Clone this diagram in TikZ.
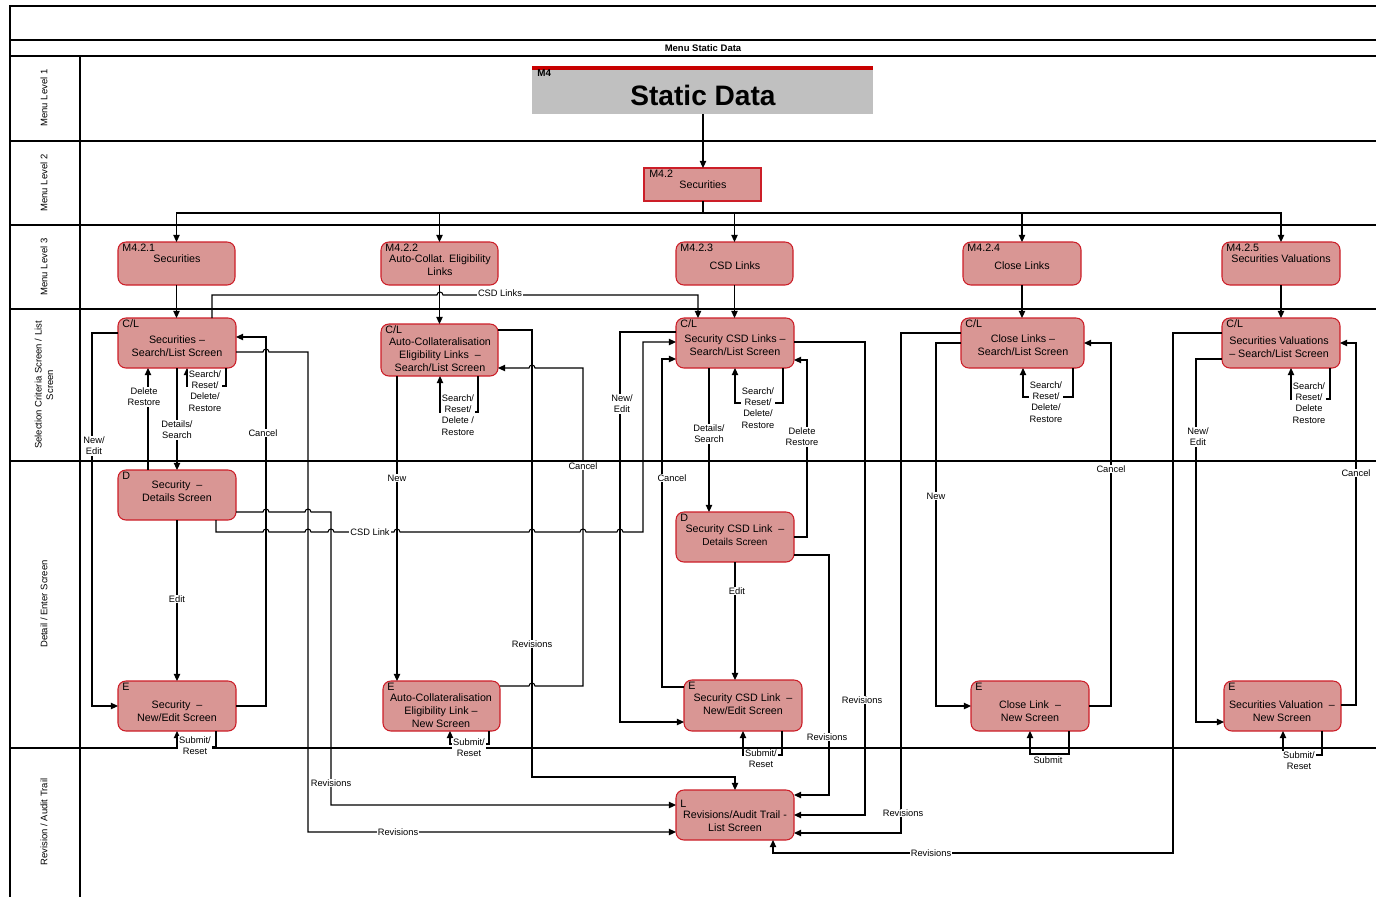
\documentclass[tikz,border=0pt]{standalone}
\usepackage{fontspec}
\setmainfont{Liberation Sans}
\usetikzlibrary{arrows.meta}
\definecolor{nodefill}{RGB}{217,150,148}
\definecolor{nodeline}{RGB}{204,30,40}
\definecolor{sdgray}{RGB}{192,192,192}
\definecolor{sdred}{RGB}{200,0,0}
\newcommand\scrbox[6]{\node[#6, minimum width={(#4-#2)*0.02cm}, minimum height={(#5-#3)*0.02cm}] (#1) at ({(#2+#4)/2},{(#3+#5)/2}) {};}
\newcommand\hopr[2]{-- ({#1-3},#2) arc[start angle=180,end angle=0,radius=1.7pt]}
\newcommand\hopl[2]{-- ({#1+3},#2) arc[start angle=0,end angle=180,radius=1.7pt]}
\begin{document}
\begin{tikzpicture}[x=0.02cm,y=-0.02cm,
  scr/.style={draw=nodeline, fill=nodefill, rounded corners=4.5pt, line width=0.6pt, inner sep=0pt, outer sep=0pt},
  sq/.style={draw=nodeline, fill=nodefill, line width=0.6pt, inner sep=0pt, outer sep=0pt},
  ntxt/.style={font=\fontsize{6.1}{7.4}\selectfont, align=center, inner sep=0pt},
  tag/.style={font=\fontsize{6.1}{7}\selectfont, inner sep=0.8pt, anchor=north west},
  lbl/.style={font=\fontsize{5.3}{6.4}\selectfont, align=center, fill=white, inner sep=0.5pt},
  lane/.style={font=\fontsize{5.4}{6.6}\selectfont, align=center, rotate=90},
  conn/.style={line width=0.6pt},
  arr/.style={conn, -{Triangle[length=4pt,width=3.6pt]}},
  grid/.style={line width=0.6pt}]
\useasboundingbox (0,0) rectangle (1376,897);
% frame and lanes
\draw[grid] (1376,6) -- (10,6) -- (10,897);
\draw[grid] (10,40) -- (1376,40);
\draw[grid] (10,56) -- (1376,56);
\foreach \yy in {141,225,309,461,748} \draw[grid] (10,\yy) -- (1376,\yy);
\draw[grid] (80,56) -- (80,897);
\node[font=\bfseries\fontsize{5.4}{6}\selectfont] (title) at (703,48) {Menu Static Data};
\node[lane] (lane1) at (44,98) {Menu Level 1};
\node[lane] (lane2) at (44,183) {Menu Level 2};
\node[lane] (lane3) at (44,267) {Menu Level 3};
\node[lane] (lane4) at (44,385) {Selection Criteria Screen / List\\Screen};
\node[lane] (lane5) at (44,604) {Detail / Enter Screen};
\node[lane] (lane6) at (44,822) {Revision / Audit Trail};
% static data
\node[fill=sdgray, minimum width={341*0.02cm}, minimum height={48*0.02cm}, inner sep=0pt, outer sep=0pt] (sd) at (702.5,90) {};
\fill[sdred] (532,66) rectangle (873,70);
\node[font=\bfseries\fontsize{5.6}{6}\selectfont, anchor=west, inner sep=0pt] (sdtag) at (537,73) {M4};
\node[font=\bfseries\fontsize{16}{18}\selectfont, inner sep=0pt] (sdtxt) at (703,95) {Static Data};
% boxes
\scrbox{m42}{644}{168}{761}{201}{sq}
\scrbox{m421}{118}{242}{235}{285}{scr}
\scrbox{m422}{381}{242}{498}{285}{scr}
\scrbox{m423}{676}{242}{793}{285}{scr}
\scrbox{m424}{963}{242}{1081}{285}{scr}
\scrbox{m425}{1222}{242}{1340}{285}{scr}
\scrbox{scl}{118}{318}{236}{368}{scr}
\scrbox{acl}{381}{324}{498}{376}{scr}
\scrbox{ccl}{676}{318}{794}{368}{scr}
\scrbox{kcl}{961}{318}{1084}{368}{scr}
\scrbox{vcl}{1222}{318}{1340}{368}{scr}
\scrbox{sdd}{118}{470}{236}{520}{scr}
\scrbox{cdd}{676}{512}{794}{562}{scr}
\scrbox{se}{118}{681}{236}{731}{scr}
\scrbox{ae}{383}{681}{500}{731}{scr}
\scrbox{ce}{684}{680}{802}{731}{scr}
\scrbox{ke}{971}{681}{1089}{731}{scr}
\scrbox{ve}{1224}{681}{1341}{731}{scr}
\scrbox{rev}{676}{790}{794}{840}{scr}
% tags
\node[tag] (m42g) at ([xshift=2pt]m42.north west) {M4.2};
\node[tag] (m421g) at ([xshift=1.5pt]m421.north west) {M4.2.1};
\node[tag] (m422g) at ([xshift=1.5pt]m422.north west) {M4.2.2};
\node[tag] (m423g) at ([xshift=1.5pt]m423.north west) {M4.2.3};
\node[tag] (m424g) at ([xshift=1.5pt]m424.north west) {M4.2.4};
\node[tag] (m425g) at ([xshift=1.5pt]m425.north west) {M4.2.5};
\node[tag] (sclg) at ([xshift=1.5pt]scl.north west) {C/L};
\node[tag] (aclg) at ([xshift=1.5pt]acl.north west) {C/L};
\node[tag] (cclg) at ([xshift=1.5pt]ccl.north west) {C/L};
\node[tag] (kclg) at ([xshift=1.5pt]kcl.north west) {C/L};
\node[tag] (vclg) at ([xshift=1.5pt]vcl.north west) {C/L};
\node[tag] (sddg) at ([xshift=1.5pt]sdd.north west) {D};
\node[tag] (cddg) at ([xshift=1.5pt]cdd.north west) {D};
\node[tag] (seg) at ([xshift=1.5pt]se.north west) {E};
\node[tag] (aeg) at ([xshift=1.5pt]ae.north west) {E};
\node[tag] (ceg) at ([xshift=1.5pt]ce.north west) {E};
\node[tag] (keg) at ([xshift=1.5pt]ke.north west) {E};
\node[tag] (veg) at ([xshift=1.5pt]ve.north west) {E};
\node[tag] (revg) at ([xshift=1.5pt,yshift=-4.5pt]rev.north west) {L};
% box texts
\node[ntxt] (m42t) at (703,185) {Securities};
\node[ntxt] (m421t) at (177,259) {Securities};
\node[ntxt] (m422t) at (440,265.5) {Auto-Collat. Eligibility\\Links};
\node[ntxt] (m423t) at (735,266) {CSD Links};
\node[ntxt] (m424t) at (1022,266) {Close Links};
\node[ntxt] (m425t) at (1281,259) {Securities Valuations};
\node[ntxt] (sclt) at (177,346.5) {Securities --\\Search/List Screen};
\node[ntxt] (aclt) at (440,355) {Auto-Collateralisation\\Eligibility Links\ \ --\\Search/List Screen};
\node[ntxt] (cclt) at (735,345) {Security CSD Links --\\Search/List Screen};
\node[ntxt] (kclt) at (1023,345) {Close Links --\\Search/List Screen};
\node[ntxt] (vclt) at (1279,347.5) {Securities Valuations\\-- Search/List Screen};
\node[ntxt] (sddt) at (177,491.5) {Security\ \ --\\Details Screen};
\node[ntxt] (cddt) at (735,535) {Security CSD Link\ \ --\\{\fontsize{5.7}{7}\selectfont Details Screen}};
\node[ntxt] (set) at (177,711.5) {Security\ \ --\\New/Edit Screen};
\node[ntxt] (aet) at (441,711) {Auto-Collateralisation\\Eligibility Link --\\New Screen};
\node[ntxt] (cet) at (743,704) {Security CSD Link\ \ --\\New/Edit Screen};
\node[ntxt] (ket) at (1030,711.5) {Close Link\ \ --\\New Screen};
\node[ntxt] (vet) at (1282,711.5) {Securities Valuation\ \ --\\New Screen};
\node[ntxt] (revt) at (735,821) {Revisions/Audit Trail -\\List Screen};
% top-level connectors
\draw[arr] (sd.south -| 703,0) -- (m42.north -| 703,0);
\draw[conn] (m42.south -| 703,0) -- (703,213);
\draw[arr] (703,213) -| (m421.north);
\draw[arr] (703,213) -| (m422.north);
\draw[arr] (703,213) -| (m423.north);
\draw[arr] (703,213) -| (m424.north);
\draw[arr] (703,213) -| (m425.north);
\draw[arr] (m421.south) -- (m421.south |- scl.north);
\draw[arr] (m422.south) -- (m422.south |- acl.north);
\draw[arr] (m423.south) -- (m423.south |- ccl.north);
\draw[arr] (m424.south) -- (m424.south |- kcl.north);
\draw[arr] (m425.south) -- (m425.south |- vcl.north);
% CSD Links from securities list
\draw[arr] (scl.north -| 212,0) -- (212,295) \hopr{440}{295} -- (698,295) -- (ccl.north -| 698,0);
% securities column
\draw[arr] (scl.west |- 0,333) -- (92,333) |- (se.west |- 0,706);
\draw[arr] (sdd.north -| 148,0) -- (scl.south -| 148,0);
\draw[arr] (scl.south) -- (sdd.north);
\draw[arr] (scl.south -| 226,0) -- (226,386) -- (187,386) -- (scl.south -| 187,0);
\draw[arr] (se.east |- 0,706) -- (266,706) |- (scl.east |- 0,337);
\draw[arr] (scl.east |- 0,352) \hopr{266}{352} -- (308,352) -- (308,832) -- (rev.west |- 0,832);
\draw[arr] (sdd.east |- 0,512) \hopr{266}{512} \hopr{308}{512} -- (331,512) -- (331,805) -- (rev.west |- 0,805);
\draw[arr] (sdd.south -| 216,0) -- (216,532) \hopr{266}{532} \hopr{308}{532} \hopr{331}{532} \hopr{397}{532} \hopr{532}{532} \hopr{583}{532} \hopr{620}{532} -- (643,532) -- (643,342) -- (ccl.west |- 0,342);
\draw[arr] (sdd.south) -- (se.north);
\draw[arr] (se.south -| 216,0) -- (216,747) -- (177,747) -- (se.south);
% auto-collateralisation column
\draw[arr] (acl.south -| 397,0) -- (ae.north -| 397,0);
\draw[arr] (acl.south -| 478,0) -- (478,412) -- (440,412) -- (acl.south -| 440,0);
\draw[arr] (acl.east |- 0,330) -- (532,330) -- (532,777) -- (735,777) -- (rev.north -| 735,0);
\draw[arr] (ae.east |- 0,686) \hopr{532}{686} -- (583,686) -- (583,368) \hopl{532}{368} -- (acl.east |- 0,368);
\draw[arr] (ae.south -| 489,0) -- (489,744) -- (450,744) -- (ae.south -| 450,0);
% CSD links column
\draw[arr] (ccl.west |- 0,332) -- (620,332) |- (ce.west |- 0,722);
\draw[arr] (ce.west |- 0,687) -- (662,687) |- (ccl.west |- 0,359);
\draw[arr] (ccl.south -| 709,0) -- (cdd.north -| 709,0);
\draw[arr] (ccl.south -| 783,0) -- (783,403) -- (735,403) -- (ccl.south -| 735,0);
\draw[arr] (cdd.east |- 0,537) -- (807,537) |- (ccl.east |- 0,360);
\draw[arr] (ccl.east |- 0,342) -- (865,342) |- (rev.east |- 0,815);
\draw[arr] (cdd.east |- 0,555) -- (829,555) |- (rev.east |- 0,795);
\draw[arr] (cdd.south) -- (cdd.south |- ce.north);
\draw[arr] (ce.south -| 782,0) -- (782,755) -- (743,755) -- (ce.south -| 743,0);
% close links column
\draw[arr] (kcl.west |- 0,333) -- (901,333) |- (rev.east |- 0,833);
\draw[arr] (kcl.west |- 0,343) -- (936,343) |- (ke.west |- 0,706);
\draw[arr] (ke.east |- 0,706) -- (1111,706) |- (kcl.east |- 0,343);
\draw[arr] (kcl.south -| 1073,0) -- (1073,397) -- (1023,397) -- (kcl.south -| 1023,0);
\draw[arr] (ke.south -| 1069,0) -- (1069,754) -- (1030,754) -- (ke.south -| 1030,0);
% securities valuations column
\draw[arr] (vcl.west |- 0,333) -- (1173,333) -- (1173,853) -- (773,853) -- (rev.south -| 773,0);
\draw[arr] (vcl.west |- 0,359) -- (1196,359) |- (ve.west |- 0,722);
\draw[arr] (ve.east |- 0,705) -- (1356,705) |- (vcl.east |- 0,343);
\draw[arr] (vcl.south -| 1330,0) -- (1330,399) -- (1291,399) -- (vcl.south -| 1291,0);
\draw[arr] (ve.south -| 1322,0) -- (1322,755) -- (1283,755) -- (ve.south -| 1283,0);
% labels
\node[lbl] (lb1) at (500,293) {CSD Links};
\node[lbl] (lb2) at (94,446) {New/\\Edit};
\node[lbl] (lb3) at (144,397) {Delete\\Restore};
\node[lbl] (lb4) at (177,430) {Details/\\Search};
\node[lbl] (lb5) at (205,391) {Search/\\Reset/\\Delete/\\Restore};
\node[lbl] (lb6) at (263,433) {Cancel};
\node[lbl] (lb7) at (398,832) {Revisions};
\node[lbl] (lb8) at (331,783) {Revisions};
\node[lbl] (lb9) at (370,532) {CSD Link};
\node[lbl] (lb10) at (177,599) {Edit};
\node[lbl] (lb11) at (195,746) {Submit/\\Reset};
\node[lbl] (lb12) at (397,478) {New};
\node[lbl] (lb13) at (458,415) {Search/\\Reset/\\Delete /\\Restore};
\node[lbl] (lb14) at (532,644) {Revisions};
\node[lbl] (lb15) at (583,466) {Cancel};
\node[lbl] (lb16) at (469,748) {Submit/\\Reset};
\node[lbl] (lb17) at (622,404) {New/\\Edit};
\node[lbl] (lb18) at (672,478) {Cancel};
\node[lbl] (lb19) at (709,434) {Details/\\Search};
\node[lbl] (lb20) at (758,408) {Search/\\Reset/\\Delete/\\Restore};
\node[lbl] (lb21) at (802,437) {Delete\\Restore};
\node[lbl] (lb22) at (862,700) {Revisions};
\node[lbl] (lb23) at (827,737) {Revisions};
\node[lbl] (lb24) at (737,591) {Edit};
\node[lbl] (lb25) at (761,759) {Submit/\\Reset};
\node[lbl] (lb26) at (903,813) {Revisions};
\node[lbl] (lb27) at (936,496) {New};
\node[lbl] (lb28) at (1111,469) {Cancel};
\node[lbl] (lb29) at (1046,402) {Search/\\Reset/\\Delete/\\Restore};
\node[lbl] (lb30) at (1048,760) {Submit};
\node[lbl] (lb31) at (931,853) {Revisions};
\node[lbl] (lb32) at (1198,437) {New/\\Edit};
\node[lbl] (lb33) at (1356,473) {Cancel};
\node[lbl] (lb34) at (1309,403) {Search/\\Reset/\\Delete\\Restore};
\node[lbl] (lb35) at (1299,761) {Submit/\\Reset};
\end{tikzpicture}
\end{document}
